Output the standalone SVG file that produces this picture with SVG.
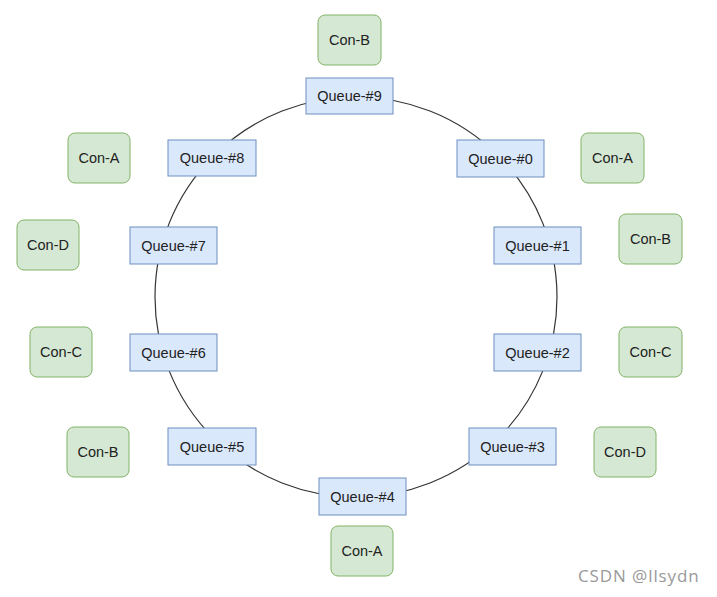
<svg xmlns="http://www.w3.org/2000/svg" width="717" height="597" viewBox="0 0 717 597">
<style>
.q{fill:#dae8fc;stroke:#6c8ebf;stroke-width:1}
.c{fill:#d5e8d4;stroke:#82b366;stroke-width:1}
text{font-family:"Liberation Sans",Arial,sans-serif;font-size:14.5px;fill:#222;text-anchor:middle;dominant-baseline:central}
.wm{font-family:"Open Sans","Noto Sans",sans-serif;font-size:17px;fill:#999;text-anchor:start;dominant-baseline:alphabetic;letter-spacing:0.9px}
</style>
<rect width="717" height="597" fill="#fff"/>
<g id="connectors">
<ellipse cx="356" cy="297" rx="201" ry="200" fill="none" stroke="#333" stroke-width="1.2"/>
</g>
<g id="q9"><rect class="q" x="306" y="78" width="87" height="36"/><text x="349.5" y="96">Queue-#9</text></g>
<g id="q8"><rect class="q" x="168" y="140" width="88" height="36"/><text x="212" y="158">Queue-#8</text></g>
<g id="q0"><rect class="q" x="457" y="140" width="87" height="37"/><text x="500.5" y="158.5">Queue-#0</text></g>
<g id="q7"><rect class="q" x="130" y="227" width="87" height="37"/><text x="173.5" y="245.5">Queue-#7</text></g>
<g id="q1"><rect class="q" x="494" y="227" width="87" height="37"/><text x="537.5" y="245.5">Queue-#1</text></g>
<g id="q6"><rect class="q" x="130" y="334" width="87" height="37"/><text x="173.5" y="352.5">Queue-#6</text></g>
<g id="q2"><rect class="q" x="494" y="334" width="87" height="37"/><text x="537.5" y="352.5">Queue-#2</text></g>
<g id="q5"><rect class="q" x="168" y="428" width="88" height="37"/><text x="212" y="446.5">Queue-#5</text></g>
<g id="q3"><rect class="q" x="469" y="428" width="87" height="37"/><text x="512.5" y="446.5">Queue-#3</text></g>
<g id="q4"><rect class="q" x="319" y="478" width="87" height="37"/><text x="362.5" y="496.5">Queue-#4</text></g>
<g id="cB1"><rect class="c" x="318" y="15" width="63" height="50" rx="7"/><text x="349.5" y="40">Con-B</text></g>
<g id="cA1"><rect class="c" x="68" y="133" width="62" height="50" rx="7"/><text x="99" y="158">Con-A</text></g>
<g id="cA2"><rect class="c" x="581" y="133" width="63" height="50" rx="7"/><text x="612.5" y="158">Con-A</text></g>
<g id="cD1"><rect class="c" x="17" y="220" width="62" height="50" rx="7"/><text x="48" y="245">Con-D</text></g>
<g id="cB2"><rect class="c" x="619" y="214" width="63" height="50" rx="7"/><text x="650.5" y="239">Con-B</text></g>
<g id="cC1"><rect class="c" x="30" y="327" width="62" height="50" rx="7"/><text x="61" y="352">Con-C</text></g>
<g id="cC2"><rect class="c" x="619" y="327" width="63" height="50" rx="7"/><text x="650.5" y="352">Con-C</text></g>
<g id="cB3"><rect class="c" x="67" y="427" width="62" height="50" rx="7"/><text x="98" y="452">Con-B</text></g>
<g id="cD2"><rect class="c" x="594" y="427" width="62" height="50" rx="7"/><text x="625" y="452">Con-D</text></g>
<g id="cA3"><rect class="c" x="331" y="526" width="62" height="50" rx="7"/><text x="362" y="551">Con-A</text></g>
<text class="wm" x="578" y="582">CSDN @llsydn</text>
</svg>
